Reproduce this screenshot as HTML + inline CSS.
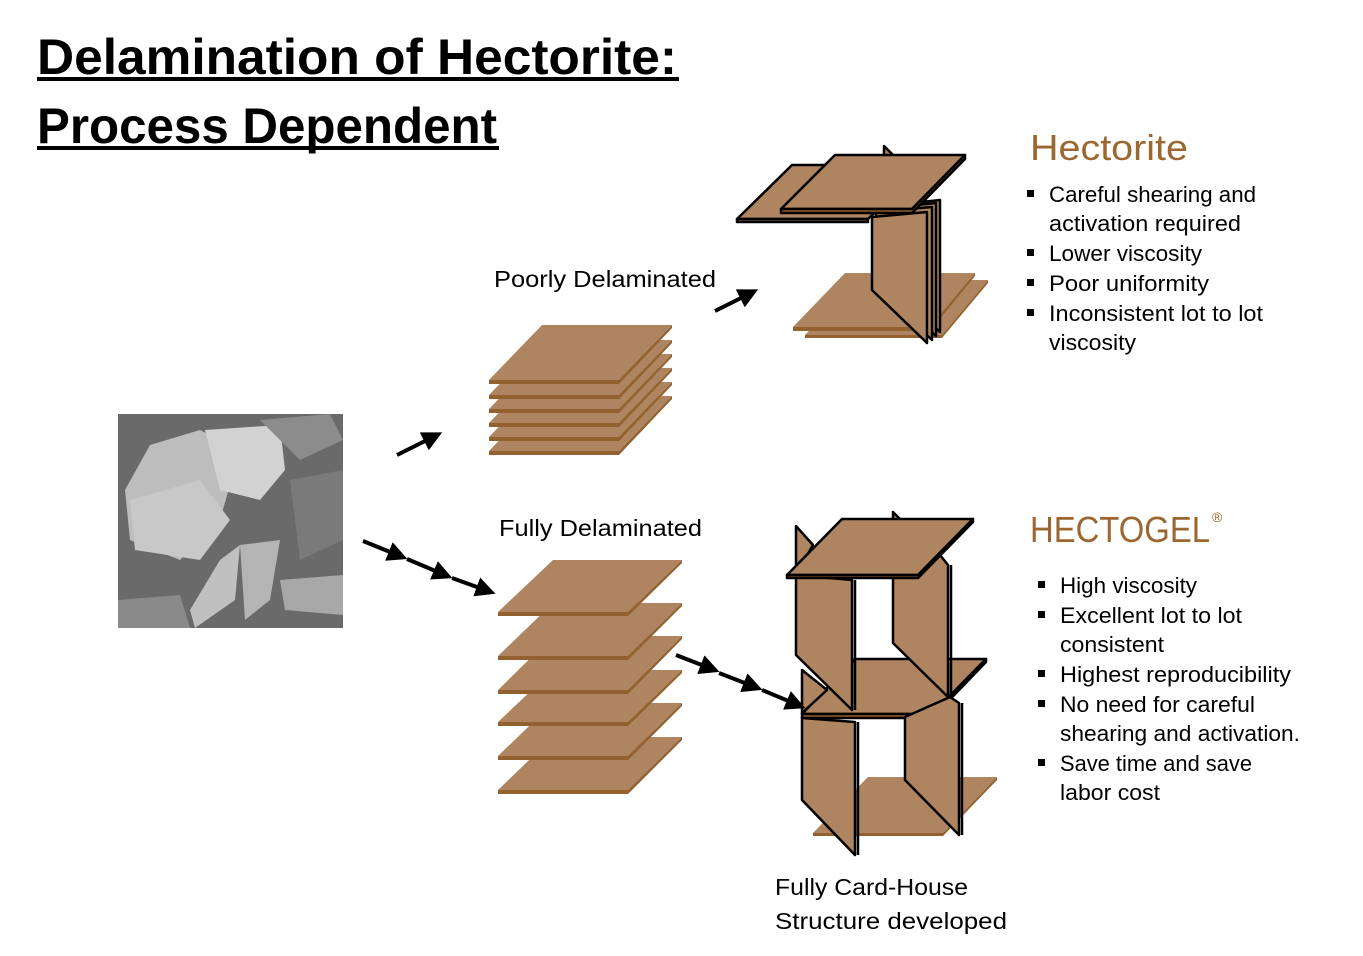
<!DOCTYPE html>
<html><head><meta charset="utf-8"><style>
html,body{margin:0;padding:0;background:#fff;}
svg{display:block;}
text{font-family:"Liberation Sans",sans-serif;}
</style></head><body>
<svg width="1363" height="956" viewBox="0 0 1363 956" xmlns="http://www.w3.org/2000/svg">
<defs>
<marker id="ah" markerWidth="5" markerHeight="5" refX="3" refY="2.5" orient="auto" markerUnits="strokeWidth">
<path d="M0,0 L5,2.5 L0,5 z" fill="#000"/></marker>
</defs>

<!-- Title -->
<g font-weight="bold" font-size="50" fill="#000">
<text x="37" y="74" textLength="640" lengthAdjust="spacingAndGlyphs">Delamination of Hectorite:</text>
<text x="37" y="143" textLength="460" lengthAdjust="spacingAndGlyphs">Process Dependent</text>
</g>
<rect x="37" y="77" width="642" height="4" fill="#000"/>
<rect x="37" y="146" width="462" height="4" fill="#000"/>

<!-- photo -->
<rect x="118" y="414" width="225" height="214" fill="#6a6a6a"/>
<g>
<polygon points="150,445 200,430 240,450 220,520 180,560 130,540 125,490" fill="#bdbdbd"/>
<polygon points="205,430 280,425 285,470 260,500 220,490" fill="#d2d2d2"/>
<polygon points="130,500 200,480 230,520 200,560 135,550" fill="#c8c8c8"/>
<polygon points="220,560 240,545 235,600 195,628 190,610" fill="#c0c0c0"/>
<polygon points="240,545 280,540 270,600 245,620" fill="#b4b4b4"/>
<polygon points="280,580 343,575 343,615 285,610" fill="#a8a8a8"/>
<polygon points="118,600 180,595 190,628 118,628" fill="#8a8a8a"/>
<polygon points="260,420 330,414 343,440 300,460" fill="#8c8c8c"/>
<polygon points="290,480 343,470 343,540 300,560" fill="#7a7a7a"/>
</g>

<!-- Poorly stack -->
<g>
<polygon points="542,396 672,396 619,451 489,451" fill="#ae8560"/>
<polygon points="489,451 619,451 672,396 672,399 619,455 489,455" fill="#93612f"/>
<polygon points="542,382 672,382 619,437 489,437" fill="#ae8560"/>
<polygon points="489,437 619,437 672,382 672,385 619,441 489,441" fill="#93612f"/>
<polygon points="542,368 672,368 619,423 489,423" fill="#ae8560"/>
<polygon points="489,423 619,423 672,368 672,371 619,427 489,427" fill="#93612f"/>
<polygon points="542,354 672,354 619,409 489,409" fill="#ae8560"/>
<polygon points="489,409 619,409 672,354 672,357 619,413 489,413" fill="#93612f"/>
<polygon points="542,340 672,340 619,395 489,395" fill="#ae8560"/>
<polygon points="489,395 619,395 672,340 672,343 619,399 489,399" fill="#93612f"/>
<polygon points="542,325 672,325 619,380 489,380" fill="#ae8560"/>
<polygon points="489,380 619,380 672,325 672,328 619,384 489,384" fill="#93612f"/>
</g>

<!-- Fully stack -->
<g>
<polygon points="553,737 682,737 628,790 498,790" fill="#ae8560"/><polygon points="498,790 628,790 682,737 682,740 628,794 498,794" fill="#93612f"/>
<polygon points="553,703 682,703 628,756 498,756" fill="#ae8560"/><polygon points="498,756 628,756 682,703 682,706 628,760 498,760" fill="#93612f"/>
<polygon points="553,670 682,670 628,722 498,722" fill="#ae8560"/><polygon points="498,722 628,722 682,670 682,673 628,726 498,726" fill="#93612f"/>
<polygon points="553,636 682,636 628,690 498,690" fill="#ae8560"/><polygon points="498,690 628,690 682,636 682,639 628,694 498,694" fill="#93612f"/>
<polygon points="553,603 682,603 628,656 498,656" fill="#ae8560"/><polygon points="498,656 628,656 682,603 682,606 628,660 498,660" fill="#93612f"/>
<polygon points="553,560 682,560 628,612 498,612" fill="#ae8560"/><polygon points="498,612 628,612 682,560 682,563 628,616 498,616" fill="#93612f"/>
</g>

<!-- Hectorite card house -->
<g stroke="#000" stroke-width="2.5" stroke-linejoin="round" fill="#ae8560">
<polygon points="857,280 988,280 942,335 805,335" stroke="none"/>
<polygon points="805,335 942,335 988,280 988,283 942,338 805,338" stroke="none" fill="#93612f"/>
<polygon points="845,273 975,273 930,327 793,327" stroke="none"/>
<polygon points="793,327 930,327 975,273 975,276 930,331 793,331" stroke="none" fill="#93612f"/>
<polygon points="884,146 893,155 884,160"/>
<polygon points="792,165 923,165 868,219 737,219"/>
<rect x="737" y="219" width="131" height="3" fill="#93612f"/>
<polygon points="884,206 884,280 940,332 940,200"/>
<polygon points="880,209 880,284 936,336 936,203"/>
<polygon points="876,212 876,287 932,340 932,207"/>
<polygon points="872,217 872,290 927,343 927,212"/>
<polygon points="835,155 965,155 912,209 781,209"/>
<polygon points="781,209 912,209 965,155 965,159 912,213 781,213" fill="#93612f"/>
</g>

<!-- HECTOGEL card house -->
<g stroke="#000" stroke-width="2.5" stroke-linejoin="round" fill="#ae8560">
<polygon points="868,777 997,777 943,833 813,833" stroke="none"/>
<polygon points="813,833 943,833 997,777 997,780 943,836 813,836" stroke="none" fill="#93612f"/>
<polygon points="796,526 813,545 796,575"/>
<polygon points="893,512 903,522 893,530"/>
<polygon points="855,659 986,659 932,714 802,714"/>
<polygon points="802,714 932,714 986,659 986,662 932,718 802,718" fill="#93612f"/>
<polygon points="796,575 796,655 852,710 852,580"/>
<line x1="855" y1="580" x2="855" y2="710"/>
<polygon points="893,565 893,643 948,697 948,565 940,555"/>
<line x1="951" y1="565" x2="951" y2="697"/>
<polygon points="802,670 827,690 802,713"/>
<polygon points="905,717 905,780 959,835 959,703 950,697"/>
<line x1="962" y1="703" x2="962" y2="835"/>
<polygon points="802,718 802,800 855,855 855,722"/>
<line x1="858" y1="722" x2="858" y2="855"/>
<polygon points="842,519 973,519 918,575 787,575"/>
<polygon points="787,575 918,575 973,519 973,522 918,578 787,578" fill="#93612f"/>
</g>

<!-- arrows -->
<g stroke="#000" stroke-width="4" fill="none" marker-end="url(#ah)">
<line x1="397" y1="455" x2="435" y2="436"/>
<line x1="715" y1="311" x2="751" y2="293"/>
<line x1="363" y1="541" x2="400" y2="556"/>
<line x1="407" y1="559" x2="445" y2="575"/>
<line x1="452" y1="578" x2="488" y2="591"/>
<line x1="676" y1="655" x2="712" y2="669"/>
<line x1="719" y1="673" x2="755" y2="687"/>
<line x1="762" y1="690" x2="798" y2="705"/>
</g>

<!-- labels -->
<g font-size="23" fill="#000">
<text x="494" y="287" textLength="222" lengthAdjust="spacingAndGlyphs">Poorly Delaminated</text>
<text x="499" y="536" textLength="203" lengthAdjust="spacingAndGlyphs">Fully Delaminated</text>
<text x="775" y="895" textLength="193" lengthAdjust="spacingAndGlyphs">Fully Card-House</text>
<text x="775" y="929" textLength="232" lengthAdjust="spacingAndGlyphs">Structure developed</text>
</g>

<text x="1030" y="160" font-size="36" fill="#9c6630" textLength="158" lengthAdjust="spacingAndGlyphs">Hectorite</text>
<text x="1030" y="542" font-size="36" fill="#9c6630" textLength="180" lengthAdjust="spacingAndGlyphs">HECTOGEL</text>
<text x="1212" y="522" font-size="14" fill="#9c6630">®</text>

<g font-size="22" fill="#000">
<rect x="1027" y="190" width="7" height="7"/>
<text x="1049" y="202" textLength="207" lengthAdjust="spacingAndGlyphs">Careful shearing and</text>
<text x="1049" y="231" textLength="192" lengthAdjust="spacingAndGlyphs">activation required</text>
<rect x="1027" y="249" width="7" height="7"/>
<text x="1049" y="261" textLength="153" lengthAdjust="spacingAndGlyphs">Lower viscosity</text>
<rect x="1027" y="279" width="7" height="7"/>
<text x="1049" y="291" textLength="160" lengthAdjust="spacingAndGlyphs">Poor uniformity</text>
<rect x="1027" y="309" width="7" height="7"/>
<text x="1049" y="321" textLength="214" lengthAdjust="spacingAndGlyphs">Inconsistent lot to lot</text>
<text x="1049" y="350" textLength="87" lengthAdjust="spacingAndGlyphs">viscosity</text>

<rect x="1038" y="581" width="7" height="7"/>
<text x="1060" y="593" textLength="137" lengthAdjust="spacingAndGlyphs">High viscosity</text>
<rect x="1038" y="611" width="7" height="7"/>
<text x="1060" y="623" textLength="182" lengthAdjust="spacingAndGlyphs">Excellent lot to lot</text>
<text x="1060" y="652" textLength="104" lengthAdjust="spacingAndGlyphs">consistent</text>
<rect x="1038" y="670" width="7" height="7"/>
<text x="1060" y="682" textLength="231" lengthAdjust="spacingAndGlyphs">Highest reproducibility</text>
<rect x="1038" y="700" width="7" height="7"/>
<text x="1060" y="712" textLength="195" lengthAdjust="spacingAndGlyphs">No need for careful</text>
<text x="1060" y="741" textLength="240" lengthAdjust="spacingAndGlyphs">shearing and activation.</text>
<rect x="1038" y="759" width="7" height="7"/>
<text x="1060" y="771" textLength="192" lengthAdjust="spacingAndGlyphs">Save time and save</text>
<text x="1060" y="800" textLength="100" lengthAdjust="spacingAndGlyphs">labor cost</text>
</g>
</svg>
</body></html>
